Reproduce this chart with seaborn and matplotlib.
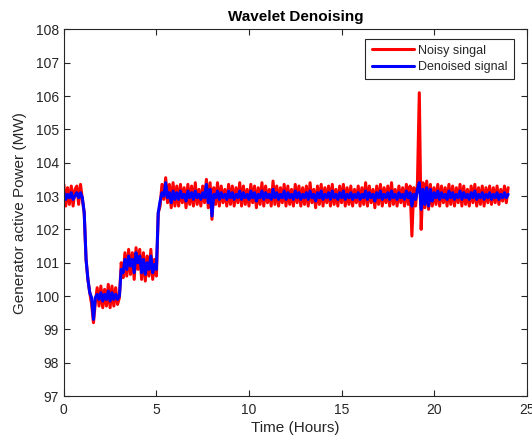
import numpy as np
import pandas as pd
import matplotlib
matplotlib.use("Agg")
import matplotlib.pyplot as plt
import seaborn as sns

# Sample times (hours), one reading every 6 minutes
hours = np.round(np.arange(0, 241) * 0.1, 1)

# Raw measured generator power (MW)
noisy = [
    103.35, 102.7, 103.25, 102.75, 103.3, 102.7, 103.2, 103.3, 102.75, 103.35, 102.9,
    102.5, 101.1, 100.5, 100.1, 99.75, 99.2, 99.8, 100.25, 99.7, 100.3,
    99.65, 100.2, 99.7, 100.35, 99.65, 100.3, 99.7, 100.25, 99.75, 99.95,
    101.0, 100.55, 101.3, 100.6, 101.4, 100.65, 101.3, 100.5, 101.45, 100.8,
    101.4, 100.5, 101.3, 100.45, 101.2, 100.6, 101.4, 100.5, 101.1, 100.6,
    102.5, 102.7, 103.35, 102.9, 103.55, 102.8, 103.35, 102.65, 103.4, 102.7,
    103.3, 102.7, 103.35, 102.8, 103.25, 102.65, 103.35, 102.75, 103.3, 102.7,
    103.4, 102.75, 103.2, 102.7, 103.3, 102.8, 103.5, 102.65, 103.4, 102.3,
    103.25, 102.75, 103.4, 102.7, 103.3, 102.8, 103.2, 102.7, 103.35, 102.75,
    103.3, 102.7, 103.25, 102.8, 103.4, 102.7, 103.3, 102.75, 103.2, 102.7,
    103.35, 102.8, 103.3, 102.65, 103.25, 102.75, 103.4, 102.7, 103.3, 102.8,
    103.2, 102.7, 103.45, 102.75, 103.3, 102.7, 103.25, 102.8, 103.35, 102.7,
    103.3, 102.75, 103.2, 102.7, 103.35, 102.8, 103.3, 102.7, 103.25, 102.75,
    103.3, 102.7, 103.4, 102.8, 103.2, 102.65, 103.3, 102.75, 103.35, 102.7,
    103.25, 102.8, 103.3, 102.7, 103.35, 102.75, 103.2, 102.7, 103.3, 102.8,
    103.35, 102.7, 103.25, 102.75, 103.3, 102.7, 103.2, 102.8, 103.3, 102.7,
    103.25, 102.75, 103.4, 102.7, 103.3, 102.8, 103.2, 102.65, 103.3, 102.75,
    103.35, 102.7, 103.25, 102.8, 103.3, 102.7, 103.4, 102.75, 103.2, 102.7,
    103.3, 102.8, 103.25, 102.7, 103.35, 102.75, 103.3, 101.8, 103.25, 102.7,
    103.4, 106.1, 102.0, 103.4, 102.65, 103.45, 102.6, 103.35, 102.7, 103.25,
    102.75, 103.35, 102.7, 103.3, 102.8, 103.25, 102.7, 103.35, 102.75, 103.3,
    102.7, 103.25, 102.8, 103.35, 102.7, 103.3, 102.75, 103.2, 102.7, 103.3,
    102.8, 103.35, 102.7, 103.25, 102.75, 103.3, 102.7, 103.25, 102.8, 103.3,
    102.75, 103.25, 102.8, 103.3, 102.75, 103.2, 102.85, 103.3, 102.8, 103.25,
]

# Wavelet-denoised power (MW)
denoised = [
    103.1, 102.9, 103.05, 102.95, 103.1, 102.9, 103.0, 103.1, 102.95, 103.1, 102.95,
    102.5, 101.1, 100.5, 100.1, 99.95, 99.3, 99.95, 100.05, 99.9, 100.1,
    99.85, 100.05, 99.9, 100.15, 99.85, 100.1, 99.9, 100.05, 99.9, 100.0,
    100.8, 100.7, 101.1, 100.8, 101.2, 100.9, 101.1, 100.7, 101.3, 101.0,
    101.2, 100.7, 101.1, 100.65, 101.0, 100.8, 101.2, 100.7, 100.95, 100.8,
    102.5, 102.85, 103.1, 103.0, 103.4, 102.95, 103.1, 102.8, 103.15, 102.9,
    103.1, 102.9, 103.15, 102.95, 103.05, 102.85, 103.15, 102.95, 103.1, 102.9,
    103.15, 102.95, 103.05, 102.9, 103.1, 102.95, 103.35, 102.8, 103.2, 102.4,
    103.05, 102.95, 103.15, 102.9, 103.1, 102.95, 103.05, 102.9, 103.15, 102.95,
    103.1, 102.9, 103.05, 102.95, 103.15, 102.9, 103.1, 102.95, 103.05, 102.9,
    103.15, 102.95, 103.1, 102.85, 103.05, 102.95, 103.15, 102.9, 103.1, 102.95,
    103.05, 102.9, 103.2, 102.95, 103.1, 102.9, 103.05, 102.95, 103.15, 102.9,
    103.1, 102.95, 103.05, 102.9, 103.15, 102.95, 103.1, 102.9, 103.05, 102.95,
    103.1, 102.9, 103.15, 102.95, 103.05, 102.85, 103.1, 102.95, 103.15, 102.9,
    103.05, 102.95, 103.1, 102.9, 103.15, 102.95, 103.05, 102.9, 103.1, 102.95,
    103.15, 102.9, 103.05, 102.95, 103.1, 102.9, 103.05, 102.95, 103.1, 102.9,
    103.05, 102.95, 103.15, 102.9, 103.1, 102.95, 103.05, 102.85, 103.1, 102.95,
    103.15, 102.9, 103.05, 102.95, 103.1, 102.9, 103.15, 102.95, 103.05, 102.9,
    103.1, 102.95, 103.05, 102.9, 103.15, 102.95, 103.1, 102.7, 103.05, 102.9,
    103.2, 103.4, 102.6, 103.2, 102.75, 103.25, 102.7, 103.2, 102.85, 103.1,
    102.95, 103.15, 102.9, 103.1, 102.95, 103.05, 102.9, 103.15, 102.95, 103.1,
    102.9, 103.05, 102.95, 103.15, 102.9, 103.1, 102.95, 103.05, 102.9, 103.1,
    102.95, 103.15, 102.9, 103.05, 102.95, 103.1, 102.9, 103.05, 102.95, 103.1,
    102.9, 103.05, 102.95, 103.1, 102.9, 103.05, 102.95, 103.1, 102.95, 103.05,
]

x_ticks = [0, 5, 10, 15, 20, 25]
y_ticks = [97, 98, 99, 100, 101, 102, 103, 104, 105, 106, 107, 108]

sns.set_style("white")
plt.rcParams["font.family"] = ["Liberation Sans", "DejaVu Sans"]

df = pd.DataFrame({"hours": hours, "noisy": noisy, "denoised": denoised})

fig = plt.figure(figsize=(5.32, 4.45), dpi=100)
ax = fig.add_axes([0.120, 0.110, 0.870, 0.824])

sns.lineplot(data=df, x="hours", y="noisy", color="#ff0000", linewidth=2.2,
             label="Noisy singal", ax=ax, estimator=None, sort=False)
sns.lineplot(data=df, x="hours", y="denoised", color="#0000ff", linewidth=2.2,
             label="Denoised signal", ax=ax, estimator=None, sort=False)

ax.set_xlim(0, 25)
ax.set_ylim(97, 108)
ax.set_xticks(x_ticks)
ax.set_yticks(y_ticks)
ax.set_xticklabels([str(v) for v in x_ticks])
ax.set_yticklabels([str(v) for v in y_ticks])

edge = "#262626"
for side in ["left", "right", "top", "bottom"]:
    ax.spines[side].set_visible(True)
    ax.spines[side].set_color(edge)
    ax.spines[side].set_linewidth(0.8)
ax.tick_params(axis="both", which="both", direction="in", length=4, width=0.8,
               colors=edge, labelsize=10, top=True, right=True,
               bottom=True, left=True, labelcolor=edge)
ax.tick_params(axis="x", pad=5)

ax.set_xlabel("Time (Hours)", fontsize=11, color=edge, labelpad=3)
ax.set_ylabel("Generator active Power (MW)", fontsize=11, color=edge, labelpad=6)
ax.set_title("Wavelet Denoising", fontsize=11, fontweight="bold", color="black", pad=6)

leg = ax.legend(loc="upper right", bbox_to_anchor=(0.98, 0.985), fontsize=9,
                frameon=True, fancybox=False, framealpha=1, edgecolor=edge,
                handlelength=3.4, handletextpad=0.3, borderpad=0.5,
                labelspacing=0.35, borderaxespad=0.3)
leg.get_frame().set_linewidth(0.8)

fig.savefig("out.png", dpi=100)
